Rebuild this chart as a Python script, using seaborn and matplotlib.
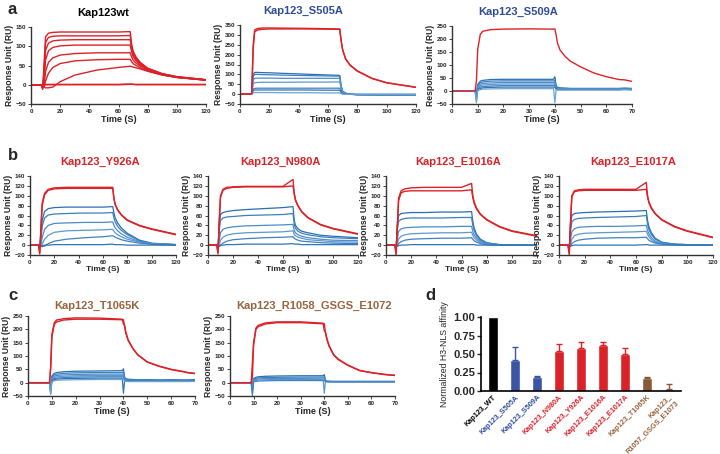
import matplotlib
matplotlib.use("Agg")
import matplotlib.pyplot as plt
import seaborn as sns
import pandas as pd

# ---------------------------------------------------------------
# data (Response Unit, RU)
# ---------------------------------------------------------------
T120 = [0, 7, 8, 9, 10, 12, 15, 20, 30, 45, 60, 68, 69, 70, 72, 75, 80, 90, 100, 120]
T70 = [0, 8, 9, 9.5, 10, 11, 12, 15, 20, 30, 39.5, 40, 40.5, 41, 42, 44, 46, 50, 55, 60, 65, 67, 70]

wt_red = [
    [0, 0, -12, 60, 125, 134, 136, 137, 137, 137, 137, 138, 105, 88, 72, 58, 43, 29, 21, 13],
    [0, 0, -10, 40, 110, 123, 126, 127, 127, 127, 127, 128, 100, 84, 69, 56, 42, 28, 21, 13],
    [0, 0, -8, 25, 90, 108, 114, 116, 117, 117, 117, 117, 93, 79, 66, 54, 41, 28, 20, 13],
    [0, 0, -6, 10, 65, 88, 97, 101, 103, 103, 103, 103, 85, 73, 62, 51, 40, 27, 20, 12],
    [0, 0, -5, -2, 35, 58, 70, 77, 81, 83, 83, 83, 72, 64, 56, 48, 38, 26, 19, 12],
    [0, 0, -4, -5, 10, 30, 45, 55, 62, 65, 66, 66, 60, 55, 50, 44, 36, 26, 19, 12],
    [0, 0, -3, -6, -8, -8, -6, 8, 25, 38, 45, 48, 47, 46, 44, 41, 35, 25, 19, 12],
    [0, 0, -2, -1, 0, 0, 0, 0, 0, 0, 0, 1, 2, 1, 0, 0, 0, 0, 0, 0],
    [0, 0, -1, 0, 1, 1, 1, 1, 1, 1, 1, 2, 1, 1, 1, 1, 1, 1, 1, 1],
]

s505_red = [
    [0, 0, 5, 250, 325, 332, 335, 335, 334, 333, 331, 330, 270, 225, 180, 148, 118, 80, 58, 35],
    [0, 0, 3, 230, 315, 325, 328, 330, 330, 330, 329, 328, 268, 222, 178, 146, 116, 79, 57, 34],
]
s505_blue = [
    [0, 0, 2, 100, 110, 110, 109, 108, 105, 101, 97, 95, 40, 15, 5, 0, -3, -4, -5, -5],
    [0, 0, 2, 90, 100, 100, 99, 98, 96, 94, 92, 91, 38, 14, 4, 0, -3, -4, -5, -5],
    [0, 0, 1, 72, 80, 81, 81, 81, 80, 80, 80, 80, 32, 12, 3, -1, -3, -4, -4, -4],
    [0, 0, 1, 52, 58, 59, 60, 60, 60, 61, 61, 62, 25, 9, 2, -1, -2, -3, -3, -3],
    [0, 0, 1, 25, 29, 30, 30, 30, 30, 30, 30, 30, 12, 4, 0, -1, -2, -2, -2, -2],
    [0, 0, 0, 18, 21, 21, 21, 21, 21, 21, 20, 20, 8, 2, 0, -1, -1, -1, -1, -1],
    [0, 0, 0, 6, 8, 8, 8, 8, 7, 7, 6, 6, 2, 0, -1, -1, -1, -1, -1, -1],
]

s509_red = [
    [0, 0, 0, 40, 160, 218, 230, 236, 238, 239, 238, 239, 215, 185, 158, 133, 115, 93, 70, 55, 44, 43, 37],
]
s509_blue = [
    [0, 0, 0, -10, 25, 38, 41, 44, 45, 45, 45, 55, 20, 14, 12, 11, 10, 10, 10, 10, 10, 11, 10],
    [0, 0, 0, -15, 20, 32, 35, 38, 39, 39, 39, 40, 16, 12, 11, 10, 9, 9, 9, 9, 9, 10, 9],
    [0, 0, 0, -20, 15, 26, 29, 31, 33, 33, 33, 33, 13, 10, 9, 8, 8, 8, 8, 8, 8, 9, 8],
    [0, 0, 0, -25, 12, 20, 23, 25, 27, 27, 27, 27, 11, 9, 8, 7, 7, 7, 7, 7, 7, 8, 7],
    [0, 0, 0, -30, 8, 15, 17, 19, 21, 21, 21, 21, 9, 7, 6, 6, 6, 6, 6, 6, 6, 7, 6],
    [0, 0, 0, -38, 5, 10, 12, 14, 15, 15, 15, 15, 7, 5, 5, 5, 5, 5, 5, 5, 5, 6, 5],
    [0, 0, 0, -45, 2, 5, 7, 8, 9, 9, 9, -45, 5, 4, 4, 4, 4, 4, 4, 4, 4, 5, 4],
]

y926_red = [
    [0, 0, -18, 40, 85, 105, 113, 116, 117, 117, 117, 117, 95, 83, 72, 62, 51, 40, 33, 22],
    [0, 0, -15, 30, 80, 102, 111, 114, 115, 115, 115, 115, 94, 82, 71, 61, 50, 39, 32, 21],
]
y926_blue = [
    [0, 0, -5, 20, 50, 68, 74, 76, 77, 77, 77, 78, 65, 55, 45, 35, 24, 10, 4, 1],
    [0, 0, -5, 10, 38, 55, 61, 63, 64, 65, 65, 66, 55, 47, 38, 30, 21, 9, 3, 1],
    [0, 0, -4, 0, 15, 32, 40, 44, 45, 46, 46, 47, 40, 35, 29, 23, 16, 7, 3, 1],
    [0, 0, -3, -3, 2, 12, 20, 26, 29, 30, 31, 32, 28, 25, 21, 17, 12, 6, 2, 1],
    [0, 0, -3, -3, -3, -2, 3, 8, 12, 15, 17, 19, 18, 16, 14, 11, 8, 4, 2, 0],
    [0, 0, -2, -2, -1, 0, 0, 1, 1, 1, 1, 2, 1, 1, 1, 1, 0, 0, 0, 0],
]

n980_red = [
    [0, 0, -18, 50, 100, 113, 117, 118, 119, 119, 119, 133, 105, 92, 80, 68, 56, 42, 34, 23],
    [0, 0, -15, 45, 97, 111, 115, 117, 118, 118, 118, 120, 103, 90, 79, 67, 55, 41, 33, 22],
]
n980_blue = [
    [0, 0, -5, 40, 62, 66, 68, 70, 72, 74, 76, 78, 50, 40, 33, 28, 25, 20, 18, 15],
    [0, 0, -5, 30, 50, 55, 57, 58, 60, 61, 62, 64, 42, 34, 28, 24, 21, 17, 15, 13],
    [0, 0, -4, 10, 25, 32, 35, 37, 39, 40, 41, 42, 30, 25, 21, 18, 15, 12, 10, 9],
    [0, 0, -3, 0, 10, 16, 20, 23, 25, 26, 27, 29, 22, 19, 16, 14, 11, 9, 7, 6],
    [0, 0, -3, -3, 0, 4, 8, 11, 13, 15, 16, 17, 14, 12, 10, 8, 7, 5, 4, 3],
    [0, 0, -2, -2, -1, 0, 1, 1, 2, 2, 2, 3, 2, 2, 2, 1, 1, 1, 1, 1],
]

e1016_red = [
    [0, 0, -20, 40, 95, 110, 114, 116, 117, 117, 117, 125, 100, 88, 75, 63, 52, 38, 29, 19],
    [0, 0, -15, 35, 90, 106, 109, 110, 110, 110, 110, 112, 96, 85, 73, 62, 51, 37, 28, 18],
]
e1016_blue = [
    [0, 0, -5, 40, 60, 64, 65, 66, 66, 67, 67, 68, 48, 35, 22, 12, 5, 1, 0, 0],
    [0, 0, -5, 30, 48, 52, 54, 55, 55, 55, 56, 56, 40, 30, 19, 10, 4, 1, 0, 0],
    [0, 0, -4, 12, 28, 33, 35, 36, 37, 37, 38, 38, 28, 21, 14, 7, 3, 1, 0, 0],
    [0, 0, -3, 2, 12, 18, 21, 23, 24, 25, 25, 26, 20, 15, 10, 5, 2, 0, 0, 0],
    [0, 0, -3, -2, 3, 7, 10, 12, 13, 14, 14, 15, 12, 9, 6, 3, 1, 0, 0, 0],
    [0, 0, -2, -2, -1, 0, 0, 1, 1, 1, 1, 1, 1, 1, 0, 0, 0, 0, 0, 0],
]

e1017_red = [
    [0, 0, -20, 50, 100, 110, 112, 113, 113, 113, 113, 127, 100, 88, 76, 64, 52, 38, 29, 16],
    [0, 0, -15, 45, 98, 108, 110, 111, 111, 111, 111, 113, 98, 86, 74, 63, 51, 37, 28, 15],
]
e1017_blue = [
    [0, 0, -5, 40, 60, 64, 65, 66, 67, 68, 69, 70, 50, 38, 25, 14, 6, 2, 1, 0],
    [0, 0, -5, 28, 47, 52, 54, 55, 56, 57, 58, 60, 43, 32, 21, 12, 5, 2, 1, 0],
    [0, 0, -4, 12, 27, 33, 36, 37, 38, 38, 39, 40, 30, 23, 15, 8, 3, 1, 0, 0],
    [0, 0, -3, 2, 12, 19, 22, 24, 25, 26, 27, 28, 22, 17, 11, 6, 3, 1, 0, 0],
    [0, 0, -3, -2, 3, 7, 10, 12, 14, 15, 15, 16, 13, 10, 7, 4, 2, 1, 0, 0],
    [0, 0, -2, -2, -1, 0, 0, 0, 0, 0, 0, 1, 1, 0, 0, 0, 0, 0, 0, 0],
]

t1065_red = [
    [0, 0, 0, 60, 180, 225, 235, 240, 243, 242, 238, 220, 215, 190, 160, 128, 105, 78, 62, 50, 42, 38, 35],
    [0, 0, 0, 50, 170, 218, 228, 235, 238, 238, 236, 236, 210, 185, 158, 127, 104, 77, 61, 49, 41, 37, 34],
]
t1065_blue = [
    [0, 0, 0, -15, 25, 35, 38, 41, 43, 44, 45, 52, 20, 15, 13, 12, 11, 11, 10, 11, 10, 10, 12],
    [0, 0, 0, -20, 20, 29, 32, 35, 37, 38, 38, 40, 16, 13, 11, 10, 10, 10, 9, 10, 9, 9, 10],
    [0, 0, 0, -25, 16, 24, 27, 29, 31, 32, 32, 33, 13, 11, 10, 9, 9, 8, 8, 8, 8, 8, 9],
    [0, 0, 0, -30, 13, 19, 22, 24, 26, 27, 27, 27, 11, 9, 8, 8, 7, 7, 7, 7, 7, 7, 8],
    [0, 0, 0, -35, 10, 15, 17, 19, 21, 22, 22, 22, 9, 8, 7, 7, 6, 6, 6, 6, 6, 6, 7],
    [0, 0, 0, -40, 7, 11, 13, 15, 16, 17, 17, -40, 7, 6, 6, 5, 5, 5, 5, 5, 5, 5, 6],
    [0, 0, 0, -45, 4, 7, 9, 10, 11, 12, 12, 12, 5, 5, 4, 4, 4, 4, 4, 4, 4, 4, 5],
]

r1058_red = [
    [0, 0, 0, 75, 150, 205, 215, 224, 228, 228, 223, 195, 190, 170, 140, 105, 88, 66, 46, 38, 32, 30, 28],
    [0, 0, 0, 20, 140, 200, 210, 220, 225, 225, 221, 221, 185, 165, 137, 103, 86, 65, 45, 37, 31, 29, 27],
]
r1058_blue = [
    [0, 0, 0, -10, 15, 20, 22, 24, 25, 26, 26, 30, 8, 6, 5, 5, 5, 5, 5, 5, 5, 5, 5],
    [0, 0, 0, -20, 12, 16, 18, 19, 20, 21, 21, 21, 7, 5, 5, 4, 4, 4, 4, 4, 4, 4, 4],
    [0, 0, 0, -30, 9, 12, 14, 15, 16, 16, 17, 17, 6, 5, 4, 4, 4, 4, 4, 4, 4, 4, 4],
    [0, 0, 0, -40, 6, 8, 10, 11, 12, 12, 12, -40, 5, 4, 3, 3, 3, 3, 3, 3, 3, 3, 3],
    [0, 0, 0, -48, 3, 5, 6, 7, 8, 8, 8, 8, 4, 3, 3, 3, 3, 3, 3, 3, 3, 3, 3],
]

# panel d: normalized affinity
mutants = ["Kap123_WT", "Kap123_S505A", "Kap123_S509A", "Kap123_N980A", "Kap123_Y926A",
           "Kap123_E1016A", "Kap123_E1017A", "Kap123_T1065K", "Kap123_\nR1057_GSGS_E1073"]
affinity = [1.00, 0.42, 0.19, 0.54, 0.58, 0.62, 0.50, 0.18, 0.03]
affinity_err = [0.0, 0.17, 0.01, 0.10, 0.08, 0.04, 0.08, 0.01, 0.06]

RED = "#dc2229"
BLUE_T = "#2f4c9c"
BROWN = "#98643f"
BLUES = ["#2a6fb3", "#3b7fc0", "#4c8cc8", "#5d98cf", "#3f82c2", "#2f74b7", "#6ea3d4"]
bar_colors = ["black", "#3a55a4", "#3a55a4", RED, RED, RED, RED, "#8a5a36", "#8a5a36"]
label_colors = ["black", BLUE_T, BLUE_T, RED, RED, RED, RED, BROWN, BROWN]

sns.set_style("ticks")
plt.rcParams["font.family"] = ["Liberation Sans", "DejaVu Sans"]
plt.rcParams["font.weight"] = "bold"

fig = plt.figure(figsize=(7.2, 4.54), dpi=100)


def px_axes(x0, x1, ytop, ybot):
    # axes box given in reference pixel coordinates
    return fig.add_axes([x0 / 720, 1 - ybot / 454, (x1 - x0) / 720, (ybot - ytop) / 454])


def sensorgram(ax, t, reds, blues, xlim, xstep, ylim, ystep, title, tcolor, tx, ty, lab_fs):
    for i, curve in enumerate(blues):
        sns.lineplot(x=t, y=curve, ax=ax, color=BLUES[i % len(BLUES)], lw=0.9,
                     estimator=None, sort=False, legend=False)
    for curve in reds:
        sns.lineplot(x=t, y=curve, ax=ax, color=RED, lw=1.0,
                     estimator=None, sort=False, legend=False)
    ax.set_xlim(*xlim)
    ax.set_ylim(*ylim)
    ax.set_xticks(range(xlim[0], xlim[1] + 1, xstep))
    ax.set_yticks(range(ylim[0], ylim[1] + 1, ystep))
    ax.tick_params(labelsize=4.5, length=2, width=0.6, pad=1.5)
    for lbl in ax.get_xticklabels() + ax.get_yticklabels():
        lbl.set_fontweight("bold")
    ax.set_xlabel("Time (S)", fontsize=lab_fs, fontweight="bold", labelpad=1)
    ax.set_ylabel("Response Unit (RU)", fontsize=6.2, fontweight="bold", labelpad=1)
    for s in ["left", "bottom"]:
        ax.spines[s].set_linewidth(1.0)
        ax.spines[s].set_color("#333333")
    sns.despine(ax=ax)
    ax.text(tx, ty, title, transform=ax.transAxes, ha="center", va="bottom",
            fontsize=8, fontweight="bold", color=tcolor)


# row a
ax = px_axes(31, 206, 27, 104)
sensorgram(ax, T120, wt_red, [], (0, 120), 20, (-50, 150), 50,
           "Kap123wt", "black", 0.41, 1.12, 6.5)
ax = px_axes(240, 416, 25, 104)
sensorgram(ax, T120, s505_red, s505_blue, (0, 120), 20, (-50, 350), 50,
           "Kap123_S505A", BLUE_T, 0.36, 1.11, 6.5)
ax = px_axes(452, 632, 26, 104)
sensorgram(ax, T70, s509_red, s509_blue, (0, 70), 10, (-50, 250), 50,
           "Kap123_S509A", BLUE_T, 0.37, 1.12, 6.5)

# row b
b_specs = [
    (30, 176, y926_red, y926_blue, "Kap123_Y926A"),
    (208, 358, n980_red, n980_blue, "Kap123_N980A"),
    (386, 537, e1016_red, e1016_blue, "Kap123_E1016A"),
    (559, 713, e1017_red, e1017_blue, "Kap123_E1017A"),
]
for x0, x1, reds, blues, name in b_specs:
    ax = px_axes(x0, x1, 176, 255)
    sensorgram(ax, T120, reds, blues, (0, 120), 20, (-20, 140), 20,
               name, RED, 0.48, 1.12, 6.0)

# row c
ax = px_axes(28, 195, 316, 396)
sensorgram(ax, T70, t1065_red, t1065_blue, (0, 70), 10, (-50, 250), 50,
           "Kap123_T1065K", BROWN, 0.41, 1.06, 6.5)
ax = px_axes(230, 395, 316, 396)
sensorgram(ax, T70, r1058_red, r1058_blue, (0, 70), 10, (-50, 250), 50,
           "Kap123_R1058_GSGS_E1072", BROWN, 0.51, 1.06, 6.5)

# panel d
axd = px_axes(481, 681, 317, 391)
df = pd.DataFrame({"mutant": mutants, "affinity": affinity})
sns.barplot(data=df, x="mutant", y="affinity", hue="mutant", palette=bar_colors,
            legend=False, width=0.42, ax=axd, saturation=1)
for i, (v, e) in enumerate(zip(affinity, affinity_err)):
    if e > 0:
        axd.errorbar(i, v, yerr=[[0], [e]], color=bar_colors[i], capsize=2.5,
                     elinewidth=1.0, capthick=1.0)
axd.set_xlim(-0.55, 8.55)
axd.set_ylim(0, 1.0)
axd.set_yticks([0, 0.25, 0.5, 0.75, 1.0])
axd.set_yticklabels(["0.00", "0.25", "0.50", "0.75", "1.00"], fontsize=8, fontweight="bold")
axd.tick_params(axis="y", length=3, width=1, pad=1)
axd.tick_params(axis="x", length=0, pad=2)
axd.set_xticks(range(len(mutants)))
axd.set_xticklabels(mutants, rotation=45, ha="right", rotation_mode="anchor",
                    fontsize=5.2, fontweight="bold")
for lbl, c in zip(axd.get_xticklabels(), label_colors):
    lbl.set_color(c)
axd.set_xlabel("")
axd.set_ylabel("Normalized H3-NLS affinity", fontsize=6.3, fontweight="normal", labelpad=3)
for s in ["left", "bottom"]:
    axd.spines[s].set_linewidth(1.2)
    axd.spines[s].set_color("black")
sns.despine(ax=axd)

# panel letters
for letter, x, y in [("a", 8, 10), ("b", 8, 155), ("c", 8, 296), ("d", 425, 296)]:
    fig.text(x / 720, 1 - y / 454, letter, fontsize=12, fontweight="bold", va="center")

fig.savefig("out.png", dpi=100)
